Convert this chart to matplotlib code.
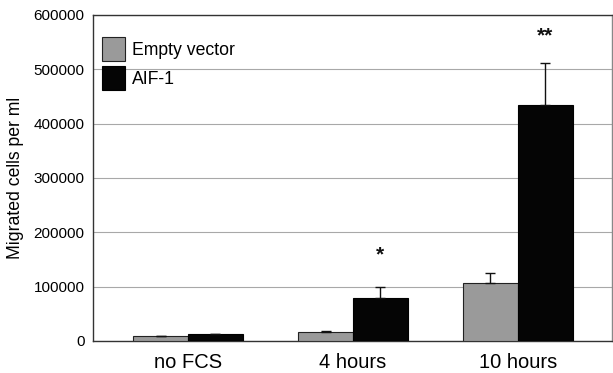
import matplotlib
matplotlib.use("Agg")
import matplotlib.pyplot as plt
import numpy as np

plt.rcParams['font.family'] = ['Liberation Sans', 'DejaVu Sans']

categories = ["no FCS", "4 hours", "10 hours"]
empty_vector = [9000, 17000, 106000]
empty_err = [1000, 2000, 20000]
aif1 = [12000, 80000, 435000]
aif1_err = [1500, 20000, 76000]
stars = ["", "*", "**"]
star_y = [0, 149000, 552000]
yticks = [0, 100000, 200000, 300000, 400000, 500000, 600000]

fig = plt.figure(figsize=(6.13, 3.73), dpi=100)
ax = fig.add_axes([93/613, 32/373, (612-93)/613, (341-15)/373])

x = np.arange(len(categories))
w = 0.333
ax.bar(x - w/2, empty_vector, w, color="#9a9a9a", edgecolor="#222222", linewidth=0.8,
       label="Empty vector", zorder=3)
ax.bar(x + w/2, aif1, w, color="#050505", edgecolor="#000000", linewidth=0.8,
       label="AIF-1", zorder=3)
ax.errorbar(x - w/2, empty_vector, yerr=[np.zeros(3), empty_err], fmt="none",
            ecolor="#111111", elinewidth=1, capsize=3.5, capthick=1, zorder=4)
ax.errorbar(x + w/2, aif1, yerr=[np.zeros(3), aif1_err], fmt="none",
            ecolor="#111111", elinewidth=1, capsize=3.5, capthick=1, zorder=4)

for xi, sy, s in zip(x, star_y, stars):
    if s:
        ax.text(xi + w/2, sy, s, ha="center", va="baseline",
                fontsize=15, fontweight="bold", color="#111111")

ax.set_xlim(-0.576, 2.57)
ax.set_ylim(0, 600000)
ax.set_yticks(yticks)
ax.set_yticklabels([str(v) for v in yticks], fontsize=11)
ax.set_xticks(x)
ax.set_xticklabels(categories, fontsize=14.5)
ax.tick_params(axis="both", length=0, pad=6)
ax.tick_params(axis="x", pad=9)
ax.yaxis.grid(True, color="#a8a8a8", linewidth=0.8, zorder=0)
ax.set_axisbelow(True)
for sp in ax.spines.values():
    sp.set_color("#333333")
    sp.set_linewidth(1.0)
ax.spines["right"].set_color("#888888")
ax.set_ylabel("Migrated cells per ml", fontsize=12.7, labelpad=7)

ax.legend(loc="upper left", bbox_to_anchor=(0.0, 0.96), frameon=False, fontsize=12.7,
          handlelength=1.3, handleheight=1.75, handletextpad=0.4, labelspacing=0.27,
          borderaxespad=0.1)

fig.savefig("out.png", dpi=100)
